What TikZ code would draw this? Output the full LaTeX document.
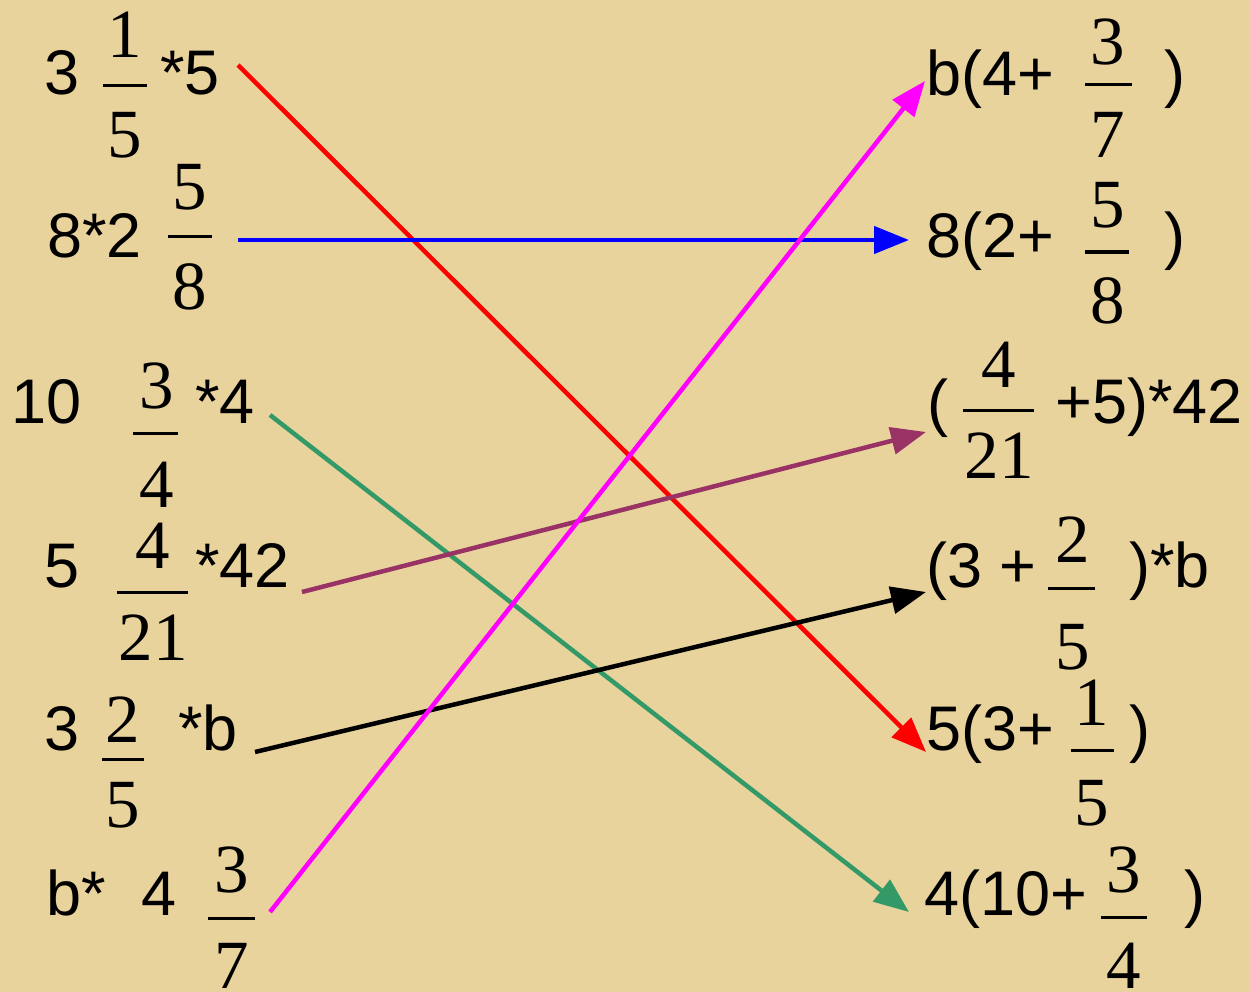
\documentclass[tikz,border=0pt]{standalone}
\usepackage{fontspec}
\setmainfont{Liberation Serif}
\newfontfamily\arialf{Liberation Sans}
\usetikzlibrary{arrows.meta}
\definecolor{paper}{HTML}{E9D39D}
\definecolor{cred}{HTML}{FF0000}
\definecolor{cblue}{HTML}{0000FF}
\definecolor{cmag}{HTML}{FF00FF}
\definecolor{cpurp}{HTML}{993366}
\definecolor{cgreen}{HTML}{339966}
\tikzset{
  ar/.style={inner sep=0pt, anchor=base west, font=\arialf\fontsize{63}{70}\selectfont},
  fr/.style={inner sep=0pt, anchor=base, font=\fontsize{69}{75}\selectfont},
  bar/.style={line width=3pt, black},
  conn/.style={line width=4.5pt, -{Triangle[length=35pt,width=27pt]}}
}
\begin{document}
\begin{tikzpicture}[x=1pt,y=-1pt]
\fill[paper] (0,0) rectangle (1249,992);
\useasboundingbox (0,0) rectangle (1249,992);
% ---------- left column ----------
\node[ar] (l1a) at (44,95) {3};
\node[fr] (l1n) at (125,58) {1};
\draw[bar] (103,86) -- (147,86);
\node[fr] (l1d) at (125,158) {5};
\node[ar] (l1b) at (160,95) {*5};

\node[ar] (l2a) at (47,258) {8*2};
\node[fr] (l2n) at (190,210) {5};
\draw[bar] (168,237) -- (212,237);
\node[fr] (l2d) at (190,309) {8};

\node[ar] (l3a) at (11,423) {10};
\node[fr] (l3n) at (157,408) {3};
\draw[bar] (133,433) -- (178,433);
\node[fr] (l3d) at (157,507) {4};
\node[ar] (l3b) at (195,423) {*4};

\node[ar] (l4a) at (44,587) {5};
\node[fr] (l4n) at (153,568) {4};
\draw[bar] (117,592) -- (188,592);
\node[fr] (l4d) at (153,660) {21};
\node[ar] (l4b) at (195,587) {*42};

\node[ar] (l5a) at (44,750) {3};
\node[fr] (l5n) at (123,742) {2};
\draw[bar] (102,759) -- (144,759);
\node[fr] (l5d) at (123,827) {5};
\node[ar] (l5b) at (178,750) {*b};

\node[ar] (l6a) at (46,915) {b*};
\node[ar] (l6b) at (141,915) {4};
\node[fr] (l6n) at (232,892) {3};
\draw[bar] (208,918) -- (255,918);
\node[fr] (l6d) at (232,988) {7};

% ---------- right column ----------
\node[ar] (r1a) at (926,96) {b(4+};
\node[fr] (r1n) at (1108,65) {3};
\draw[bar] (1085,85) -- (1132,85);
\node[fr] (r1d) at (1108,158) {7};
\node[ar] (r1b) at (1164,96) {)};

\node[ar] (r2a) at (926,258) {8(2+};
\node[fr] (r2n) at (1108,228) {5};
\draw[bar] (1085,252) -- (1129,252);
\node[fr] (r2d) at (1108,323) {8};
\node[ar] (r2b) at (1164,258) {)};

\node[ar] (r3a) at (927,424) {(};
\node[fr] (r3n) at (999,387) {4};
\draw[bar] (963,410) -- (1034,410);
\node[fr] (r3d) at (999,478) {21};
\node[ar] (r3b) at (1055,423) {+5)*42};

\node[ar] (r4a) at (926,587) {(3 +};
\node[fr] (r4n) at (1073,562) {2};
\draw[bar] (1048,588) -- (1095,588);
\node[fr] (r4d) at (1073,669) {5};
\node[ar] (r4b) at (1129,587) {)*b};

\node[ar] (r5a) at (926,750) {5(3+};
\node[fr] (r5n) at (1092,725) {1};
\draw[bar] (1071,750) -- (1114,750);
\node[fr] (r5d) at (1092,825) {5};
\node[ar] (r5b) at (1129,750) {)};

\node[ar] (r6a) at (924,915) {4(10+};
\node[fr] (r6n) at (1124,892) {3};
\draw[bar] (1101,917) -- (1147,917);
\node[fr] (r6d) at (1124,988) {4};
\node[ar] (r6b) at (1184,915) {)};

% ---------- connector ends ----------
\coordinate (s1) at (238,65);
\coordinate (s2) at (238,240);
\coordinate (s3) at (270,415);
\coordinate (s4) at (302,592);
\coordinate (s5) at (255,752);
\coordinate (s6) at (270,912);
\coordinate (t1) at (925,81);
\coordinate (t2) at (909,240);
\coordinate (t3) at (926,432);
\coordinate (t4) at (926,592);
\coordinate (t5) at (926,752);
\coordinate (t6) at (909,912);

\draw[conn, cred] (s1) -- (t5);
\draw[conn, cblue] (s2) -- (t2);
\draw[conn, cgreen] (s3) -- (t6);
\draw[conn, cpurp] (s4) -- (t3);
\draw[conn, black] (s5) -- (t4);
\draw[conn, cmag] (s6) -- (t1);
\end{tikzpicture}
\end{document}
